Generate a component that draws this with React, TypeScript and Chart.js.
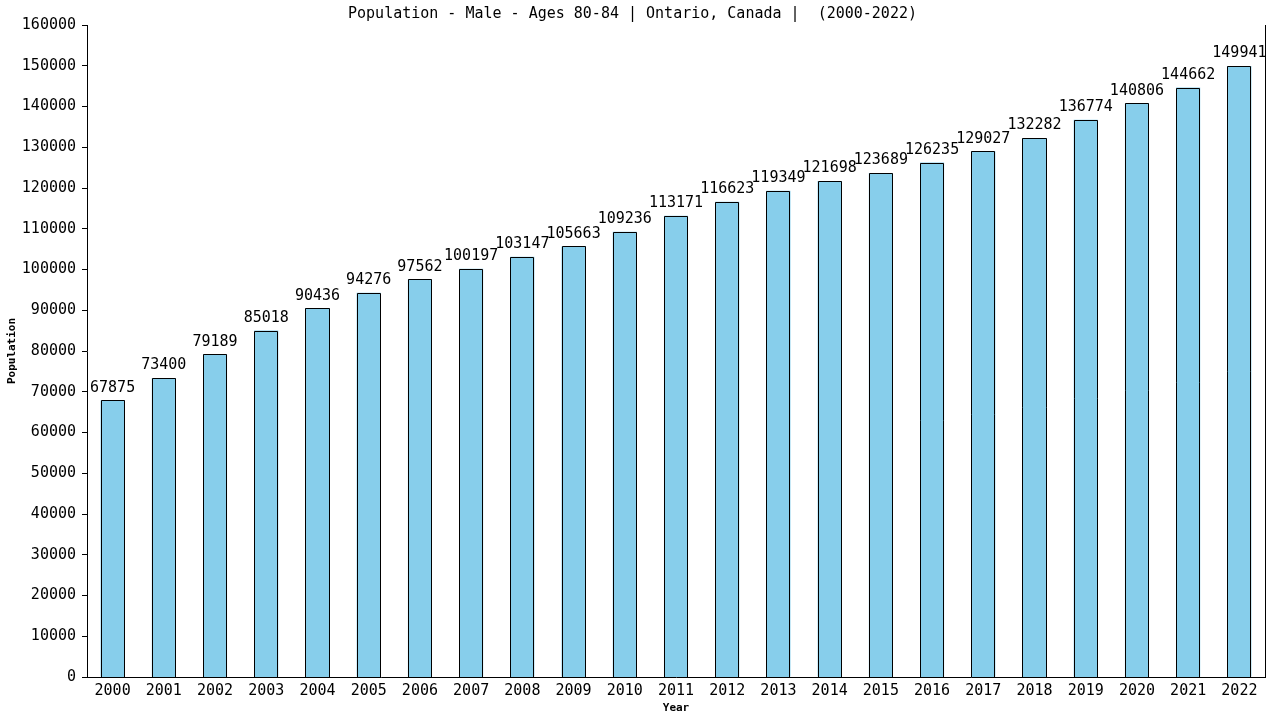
import React, { useEffect, useRef } from "react";
import { Chart, registerables } from "chart.js";

Chart.register(...registerables);

const titleText = "Population - Male - Ages 80-84 | Ontario, Canada |  (2000-2022)";
const years = [
  "2000", "2001", "2002", "2003", "2004", "2005", "2006", "2007", "2008", "2009", "2010", "2011",
  "2012", "2013", "2014", "2015", "2016", "2017", "2018", "2019", "2020", "2021", "2022",
];
const population = [
  67875, 73400, 79189, 85018, 90436, 94276, 97562, 100197, 103147, 105663, 109236, 113171,
  116623, 119349, 121698, 123689, 126235, 129027, 132282, 136774, 140806, 144662, 149941,
];
const yMin = 0;
const yMax = 160000;
const yStep = 10000;

const MONO = "'DejaVu Sans Mono', monospace";

const barOutlines = {
  id: "barOutlines",
  afterDatasetsDraw(chart: any) {
    const ctx = chart.ctx;
    const meta = chart.getDatasetMeta(0);
    ctx.save();
    ctx.strokeStyle = "#000";
    ctx.lineWidth = 1;
    meta.data.forEach((bar: any) => {
      const half = bar.width / 2;
      const l = Math.round(bar.x - half) + 0.5;
      const r = Math.round(bar.x + half) - 0.5;
      const t = Math.round(bar.y) + 0.5;
      const b = Math.round(bar.base);
      ctx.fillStyle = "#87CEEB";
      ctx.fillRect(l - 0.5, t - 0.5, r - l + 1, b - t + 0.5);
      ctx.beginPath();
      ctx.moveTo(l, b);
      ctx.lineTo(l, t);
      ctx.lineTo(r, t);
      ctx.lineTo(r, b);
      ctx.stroke();
    });
    ctx.restore();
  },
};

const valueLabels = {
  id: "valueLabels",
  afterDatasetsDraw(chart: any) {
    const ctx = chart.ctx;
    const meta = chart.getDatasetMeta(0);
    ctx.save();
    ctx.font = `15px ${MONO}`;
    ctx.fillStyle = "#000";
    ctx.textAlign = "center";
    ctx.textBaseline = "bottom";
    meta.data.forEach((bar: any, i: number) => {
      ctx.fillText(String(chart.data.datasets[0].data[i]), bar.x, bar.y - 5);
    });
    ctx.restore();
  },
};

const rightBorder = {
  id: "rightBorder",
  afterDraw(chart: any) {
    const { ctx, chartArea } = chart;
    ctx.save();
    ctx.strokeStyle = "#000";
    ctx.lineWidth = 1;
    ctx.beginPath();
    const x = Math.round(chartArea.right) + 0.5;
    ctx.moveTo(x, chartArea.top);
    ctx.lineTo(x, chartArea.bottom);
    ctx.stroke();
    ctx.restore();
  },
};

export default function App() {
  const canvasRef = useRef<HTMLCanvasElement | null>(null);

  useEffect(() => {
    if (!canvasRef.current) return;
    const chart = new Chart(canvasRef.current, {
      type: "bar",
      data: {
        labels: years,
        datasets: [
          {
            label: "Population",
            data: population,
            backgroundColor: "#87CEEB",
            borderColor: "#000",
            borderWidth: 0,
            barPercentage: 0.47,
            categoryPercentage: 1,
          },
        ],
      },
      options: {
        responsive: false,
        animation: false,
        layout: { padding: { left: 0, right: 15, top: 0, bottom: 0 } },
        plugins: {
          legend: { display: false },
          tooltip: { enabled: false },
          title: {
            display: true,
            text: titleText,
            color: "#000",
            font: { family: MONO, size: 15, weight: "normal" },
            padding: { top: 5, bottom: 2 },
          },
        },
        scales: {
          x: {
            grid: { display: false, drawTicks: false },
            border: { display: true, color: "#000", width: 1 },
            ticks: { color: "#000", font: { family: MONO, size: 15 }, padding: 5, maxRotation: 0, autoSkip: false },
            title: {
              display: true,
              text: "Year",
              color: "#000",
              font: { family: MONO, size: 11, weight: "bold" },
              padding: { top: 0, bottom: 5 },
            },
            afterFit(scale: any) {
              scale.height = 43;
            },
          },
          y: {
            min: yMin,
            max: yMax,
            grid: { drawOnChartArea: false, drawTicks: true, tickLength: 5, color: "#000" },
            border: { display: true, color: "#000", width: 1 },
            ticks: {
              stepSize: yStep,
              color: "#000",
              font: { family: MONO, size: 15 },
              padding: 6,
              callback: (v: any) => String(v),
            },
            title: {
              display: true,
              text: "Population",
              color: "#000",
              font: { family: MONO, size: 11, weight: "bold" },
              padding: { top: 6, bottom: 0 },
            },
            afterFit(scale: any) {
              scale.width = 87;
            },
          },
        },
      },
      plugins: [barOutlines, valueLabels, rightBorder],
    });
    return () => chart.destroy();
  }, []);

  return (
    <div style={{ position: "fixed", left: 0, top: 0, width: 1280, height: 720, background: "#fff" }}>
      <canvas ref={canvasRef} width={1280} height={720} style={{ width: 1280, height: 720 }} />
    </div>
  );
}
